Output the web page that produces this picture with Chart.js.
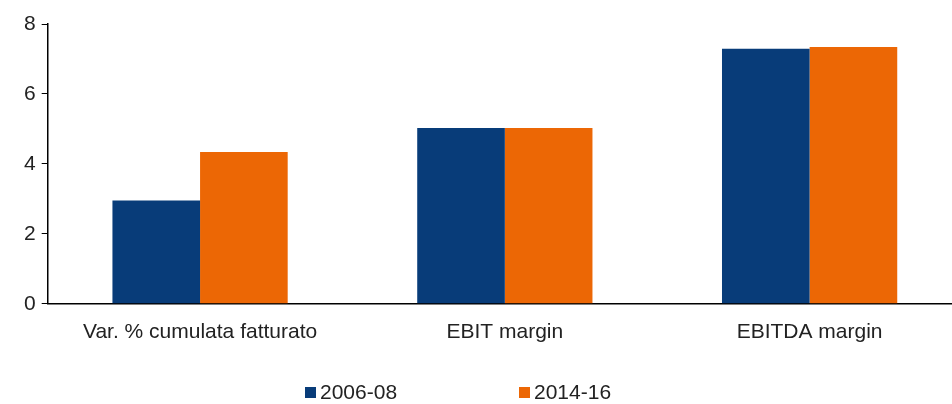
<!DOCTYPE html>
<html>
<head>
<meta charset="utf-8">
<script src="https://cdn.jsdelivr.net/npm/chart.js@4"></script>
<style>
  html, body { margin: 0; padding: 0; background: #fff; overflow: hidden; }
  #wrap { width: 962px; height: 404px; }
</style>
</head>
<body>
<div id="wrap"><canvas id="myChart"></canvas></div>
<script>
var categories = ["Var. % cumulata fatturato", "EBIT margin", "EBITDA margin"];
var seriesNames = ["2006-08", "2014-16"];
var values0608 = [2.95, 5.03, 7.29];
var values1416 = [4.34, 5.03, 7.34];
var yTicks = [0, 2, 4, 6, 8];
var barColors = ["#083c79", "#ec6705"];

Chart.defaults.font.family = "'Liberation Sans', Arial, sans-serif";
Chart.defaults.color = "#222";

// legend drawn below, items spaced wide like the original
var wideLegend = {
    id: "wideLegend",
    afterDraw: function (chart) {
        var ctx = chart.ctx;
        var y = chart.height - 12;
        var starts = [305, 519];
        ctx.save();
        ctx.font = "21px 'Liberation Sans', Arial, sans-serif";
        ctx.textBaseline = "middle";
        chart.data.datasets.forEach(function (ds, i) {
            ctx.fillStyle = ds.backgroundColor;
            ctx.fillRect(starts[i], y - 5, 11, 11);
            ctx.fillStyle = "#222";
            ctx.fillText(ds.label, starts[i] + 15, y + 1);
        });
        ctx.restore();
    }
};

new Chart("myChart", {
    type: "bar",
    data: {
        labels: categories,
        datasets: [{
            label: seriesNames[0],
            data: values0608,
            backgroundColor: barColors[0]
        }, {
            label: seriesNames[1],
            data: values1416,
            backgroundColor: barColors[1]
        }]
    },
    options: {
        responsive: true,
        maintainAspectRatio: false,
        animation: false,
        datasets: {
            bar: { categoryPercentage: 0.575, barPercentage: 1 }
        },
        layout: {
            padding: { left: 18, right: 0, top: 24, bottom: 51 }
        },
        plugins: {
            legend: { display: false },
            tooltip: { enabled: false }
        },
        scales: {
            x: {
                grid: { display: false },
                border: { display: true, color: "#000", width: 1.5 },
                ticks: { font: { size: 21 }, color: "#222", padding: 8 },
            },
            y: {
                min: 0,
                max: 8,
                afterBuildTicks: function (axis) {
                    axis.ticks = yTicks.map(function (v) { return { value: v }; });
                },
                grid: {
                    display: true,
                    drawOnChartArea: false,
                    drawTicks: true,
                    tickLength: 6,
                    color: "#000"
                },
                border: { display: true, color: "#000", width: 1.5 },
                ticks: { font: { size: 21 }, color: "#222", padding: 6 }
            }
        }
    },
    plugins: [wideLegend]
});
</script>
</body>
</html>
